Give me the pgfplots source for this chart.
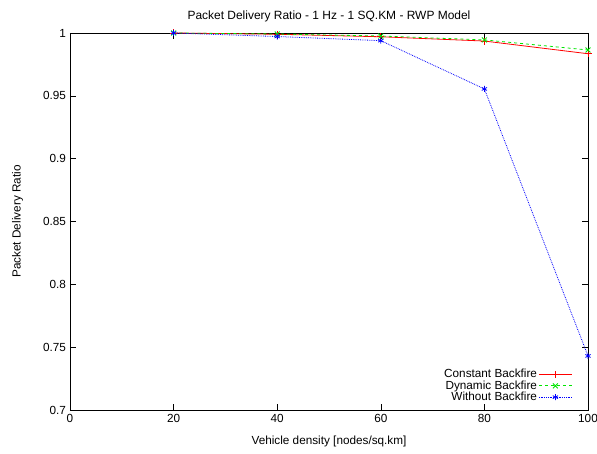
\documentclass[border=0pt]{standalone}
\usepackage{fontspec}
\setmainfont{Liberation Sans}
\usepackage{pgfplots}
\pgfplotsset{compat=1.18}

\begin{document}
\fontsize{11.8}{13}\selectfont
\begin{tikzpicture}
% fixed frame so the picture keeps the reference proportions
\path[use as bounding box] (-70bp,-44bp) rectangle (527bp,410bp);
\begin{axis}[
    at={(0,0)}, anchor=south west,
    scale only axis,
    width=518bp, height=377bp,
    xmin=0, xmax=100,
    ymin=0.7, ymax=1,
    xtick={0,20,40,60,80,100},
    ytick={0.7,0.75,0.8,0.85,0.9,0.95,1},
    yticklabels={0.7,0.75,0.8,0.85,0.9,0.95,1},
    /pgf/number format/assume math mode=true,
    tick label style={font=\fontsize{11.8}{13}\selectfont},
    major tick length=6bp,
    tick style={black, line width=0.6pt},
    axis line style={black, line width=0.9pt},
    title={Packet Delivery Ratio - 1 Hz - 1 SQ.KM - RWP Model},
    title style={font=\fontsize{12}{13}\selectfont, yshift=1bp},
    xlabel={Vehicle density [nodes/sq.km]},
    ylabel={Packet Delivery Ratio},
    label style={font=\fontsize{11.8}{13}\selectfont},
    xlabel style={yshift=-6bp},
    ylabel style={yshift=12bp},
    legend plot pos=right,
    legend cell align=right,
    legend style={draw=none, fill=none, at={(0.972,0.012)}, anchor=south east,
        inner sep=1bp, row sep=-3bp, nodes={inner xsep=1.5bp},
        font=\fontsize{11.8}{13}\selectfont},
    legend image code/.code={
        \draw[mark repeat=2, mark phase=2, #1]
            plot coordinates {(0bp,0bp) (16.5bp,0bp) (33bp,0bp)};},
]
\addplot[red, line width=0.8pt, mark=+, mark size=3.5bp] coordinates {
(20,1.000) (40,0.9990) (60,0.9970) (80,0.9936) (100,0.9835)
};
\addlegendentry{Constant Backfire}
\addplot[green!90!black, line width=0.8pt, dashed, mark=x, mark size=3.5bp, mark options={solid}] coordinates {
(20,1.000) (40,0.9992) (60,0.9976) (80,0.9945) (100,0.9865)
};
\addlegendentry{Dynamic Backfire}
\addplot[blue, line width=0.8pt, densely dotted, mark=asterisk, mark size=3bp, mark options={solid}] coordinates {
(20,1.000) (40,0.9972) (60,0.9939) (80,0.9555) (100,0.7430)
};
\addlegendentry{Without Backfire}
\end{axis}
\end{tikzpicture}
\end{document}
